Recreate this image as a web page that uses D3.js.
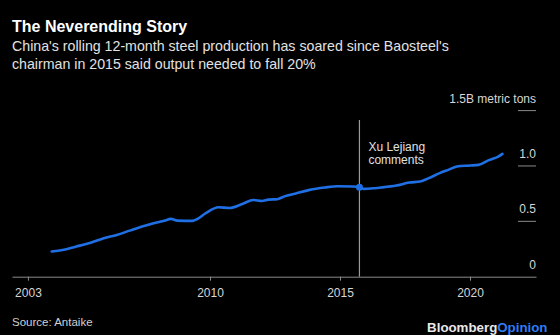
<!DOCTYPE html>
<html>
<head>
<meta charset="utf-8">
<script src="https://cdn.jsdelivr.net/npm/d3@7"></script>
<style>
  html, body { margin: 0; padding: 0; background: #000; }
  svg { display: block; font-family: "Liberation Sans", Arial, sans-serif; }
</style>
</head>
<body>
<svg id="chart" width="560" height="335"></svg>
<script>
// China rolling 12-month crude steel production, billion metric tons
const months = [
  "2003-12","2004-05","2004-11","2005-06","2005-12","2006-06","2006-12","2007-07",
  "2007-11","2008-04","2008-07","2008-10","2009-05","2009-07","2009-11","2010-05",
  "2010-10","2011-04","2011-09","2012-01","2012-04","2012-08","2012-11","2013-05",
  "2013-11","2014-06","2014-12","2015-07","2015-10","2015-12","2016-05","2016-08",
  "2017-03","2017-09","2018-02","2018-06","2018-11","2019-03","2019-07","2020-01",
  "2020-05","2020-10","2021-02","2021-04"
];
const production = [
  0.228,0.241,0.271,0.307,0.347,0.377,0.416,0.461,
  0.483,0.506,0.522,0.506,0.504,0.519,0.573,0.627,
  0.621,0.657,0.693,0.684,0.696,0.700,0.723,0.754,
  0.784,0.805,0.817,0.814,0.808,0.793,0.799,0.805,
  0.823,0.850,0.859,0.890,0.935,0.965,0.995,1.004,
  1.010,1.055,1.085,1.109
];
const yTicks = [0, 0.5, 1.0, 1.5];
const yTickLabels = ["0", "0.5", "1.0", "1.5B metric tons"];
const xTickYears = [2003, 2010, 2015, 2020];
const eventMonth = "2015-10";
const eventLines = ["Xu Lejiang", "comments"];

const parse = d3.timeParse("%Y-%m");
const data = months.map((m, i) => ({ date: parse(m), value: production[i] }));

const svg = d3.select("#chart");
const left = 12, right = 536, baseY = 276.7, topY = 110.6;

const x = d3.scaleTime()
  .domain([new Date(2002, 4, 22), new Date(2022, 6, 16)])
  .range([left, right]);
const y = d3.scaleLinear().domain([0, 1.5]).range([baseY, topY]);

// Right-hand value labels with short rules beneath
const yg = svg.append("g");
yTicks.forEach((t, i) => {
  if (t > 0) {
    yg.append("line")
      .attr("x1", right - 18).attr("x2", right)
      .attr("y1", y(t)).attr("y2", y(t))
      .attr("stroke", "#8a8a8a").attr("stroke-width", 1);
  }
  yg.append("text")
    .attr("x", right).attr("y", y(t) - 8)
    .attr("text-anchor", "end")
    .attr("fill", "#d6d6d6")
    .attr("font-size", 12)
    .text(yTickLabels[i]);
});

// Bottom axis
const xAxis = d3.axisBottom(x)
  .tickValues(xTickYears.map(yr => new Date(yr, 0, 1)))
  .tickFormat(d3.timeFormat("%Y"))
  .tickSize(4)
  .tickSizeOuter(0)
  .tickPadding(8);
const xg = svg.append("g")
  .attr("transform", `translate(0,${baseY})`)
  .call(xAxis);
xg.select(".domain").attr("stroke", "#8a8a8a").attr("stroke-width", 1);
xg.selectAll(".tick line").attr("stroke", "#8a8a8a");
xg.selectAll(".tick text")
  .attr("fill", "#d6d6d6")
  .attr("font-size", 12)
  .attr("font-family", "Liberation Sans, Arial, sans-serif");

// Event marker
const ev = parse(eventMonth);
const evPoint = data.find(d => +d.date === +ev);
svg.append("line")
  .attr("x1", x(ev)).attr("x2", x(ev))
  .attr("y1", 120).attr("y2", baseY)
  .attr("stroke", "#9a9a9a").attr("stroke-width", 1.2);
const evText = svg.append("text")
  .attr("x", x(ev) + 9).attr("y", 150.5)
  .attr("fill", "#e0e0e0")
  .attr("font-size", 12);
eventLines.forEach((s, i) => {
  evText.append("tspan").attr("x", x(ev) + 9).attr("dy", i === 0 ? 0 : 13.5).text(s);
});

// Production line
const line = d3.line()
  .x(d => x(d.date))
  .y(d => y(d.value))
  .curve(d3.curveMonotoneX);
svg.append("path")
  .datum(data)
  .attr("d", line)
  .attr("fill", "none")
  .attr("stroke", "#1f6fe5")
  .attr("stroke-width", 2.6)
  .attr("stroke-linejoin", "round")
  .attr("stroke-linecap", "round");

svg.append("circle")
  .attr("cx", x(evPoint.date)).attr("cy", y(evPoint.value))
  .attr("r", 3.5)
  .attr("fill", "#1f6fe5");

// Titles
svg.append("text")
  .attr("x", 12).attr("y", 32)
  .attr("fill", "#ffffff")
  .attr("font-size", 16).attr("font-weight", "bold")
  .text("The Neverending Story");
const sub = svg.append("text")
  .attr("x", 12).attr("y", 50.5)
  .attr("fill", "#e2e2e2")
  .attr("font-size", 14.2);
sub.append("tspan").attr("x", 12).attr("dy", 0)
  .text("China's rolling 12-month steel production has soared since Baosteel's");
sub.append("tspan").attr("x", 12).attr("dy", 18.5)
  .text("chairman in 2015 said output needed to fall 20%");

// Footer
svg.append("text")
  .attr("x", 12).attr("y", 326)
  .attr("fill", "#d0d0d0")
  .attr("font-size", 11.5)
  .text("Source: Antaike");
const brand = svg.append("text")
  .attr("x", 547.5).attr("y", 332)
  .attr("text-anchor", "end")
  .attr("font-size", 13.3).attr("font-weight", "bold");
brand.append("tspan").attr("fill", "#e8e8e8").text("Bloomberg");
brand.append("tspan").attr("fill", "#2f7cf6").text("Opinion");
</script>
</body>
</html>
